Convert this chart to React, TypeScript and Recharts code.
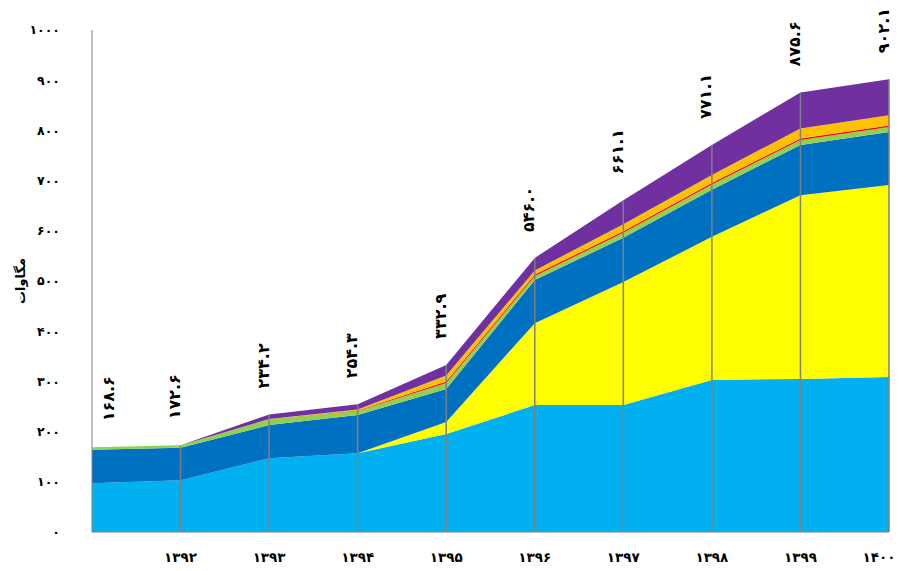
import { AreaChart, Area, XAxis, YAxis, ReferenceLine, LabelList } from 'recharts';

const years = ['۱۳۹۱', '۱۳۹۲', '۱۳۹۳', '۱۳۹۴', '۱۳۹۵', '۱۳۹۶', '۱۳۹۷', '۱۳۹۸', '۱۳۹۹', '۱۴۰۰'];

const lightBlue = [97, 103, 147, 157, 195, 253, 253, 303, 305, 309];
const yellow = [0, 0, 0, 0, 24, 163, 245, 285, 366, 382];
const darkBlue = [66.6, 64.6, 66, 76, 66, 86, 88, 94, 100, 106];
const green = [5, 5, 12, 8, 12, 8, 10, 10, 10, 10];
const red = [0, 0, 0, 1, 3, 3, 3, 3, 3, 3];
const orange = [0, 0, 0, 2, 12, 8, 14, 16, 20, 20];
const purple = [0, 0, 9.2, 10.3, 20.9, 25, 48.1, 60.1, 71.6, 72.1];

const totalLabels = ['۱۶۸.۶', '۱۷۲.۶', '۲۳۴.۲', '۲۵۴.۳', '۳۳۲.۹', '۵۴۶.۰', '۶۶۱.۱', '۷۷۱.۱', '۸۷۵.۶', '۹۰۲.۱'];

const yTicks = [0, 100, 200, 300, 400, 500, 600, 700, 800, 900, 1000];

const chartData = years.map((year, i) => ({
  year,
  lightBlue: lightBlue[i],
  yellow: yellow[i],
  darkBlue: darkBlue[i],
  green: green[i],
  red: red[i],
  orange: orange[i],
  purple: purple[i],
}));

// top of the stack, used for the drop lines
const totals = chartData.map(
  (d) => d.lightBlue + d.yellow + d.darkBlue + d.green + d.red + d.orange + d.purple
);

const faDigits = (n: number) => String(n).replace(/\d/g, (d) => '۰۱۲۳۴۵۶۷۸۹'[Number(d)]);

const font = 'DejaVu Sans';

const renderTotal = (props: any) => {
  const { x, y, index } = props;
  const dx = index === 0 ? 16 : -6;
  return (
    <text
      transform={`translate(${x + dx},${y - 26}) rotate(-90)`}
      textAnchor="start"
      dominantBaseline="central"
      fontFamily={font}
      fontWeight="bold"
      fontSize={16}
      fill="#000"
    >
      {totalLabels[index]}
    </text>
  );
};

const XTick = (props: any) => {
  const { x, y, payload, index } = props;
  if (index === 0) return null;
  const dx = index === years.length - 1 ? -10 : 0;
  return (
    <text
      x={x + dx}
      y={y}
      dy="0.71em"
      textAnchor="middle"
      fontFamily={font}
      fontWeight="bold"
      fontSize={13.5}
      fill="#000"
    >
      {payload.value}
    </text>
  );
};

export default function App() {
  return (
    <AreaChart
      width={897}
      height={563}
      data={chartData}
      margin={{ top: 22, right: 16, bottom: 9, left: 4 }}
    >
      <XAxis
        dataKey="year"
        stroke="#808080"
        tickLine={false}
        tickSize={0}
        tickMargin={20}
        height={30}
        tick={<XTick />}
        interval={0}
      />
      <YAxis
        domain={[0, 1000]}
        ticks={yTicks}
        width={80}
        stroke="#808080"
        tickLine={false}
        tickSize={0}
        tickMargin={32}
        tick={{ fill: '#000', fontFamily: font, fontWeight: 'bold', fontSize: 12.5 }}
        tickFormatter={(v: number) => faDigits(v)}
        label={{
          value: 'مگاوات',
          angle: -90,
          position: 'insideLeft',
          offset: 8,
          style: { fill: '#000', fontFamily: font, fontWeight: 'bold', fontSize: 13, textAnchor: 'middle' },
        }}
      />
      <Area type="linear" dataKey="lightBlue" stackId="a" stroke="none" fill="#00B0F0" fillOpacity={1} isAnimationActive={false} />
      <Area type="linear" dataKey="yellow" stackId="a" stroke="none" fill="#FFFF00" fillOpacity={1} isAnimationActive={false} />
      <Area type="linear" dataKey="darkBlue" stackId="a" stroke="none" fill="#0070C0" fillOpacity={1} isAnimationActive={false} />
      <Area type="linear" dataKey="green" stackId="a" stroke="none" fill="#92D050" fillOpacity={1} isAnimationActive={false} />
      <Area type="linear" dataKey="red" stackId="a" stroke="none" fill="#FF0000" fillOpacity={1} isAnimationActive={false} />
      <Area type="linear" dataKey="orange" stackId="a" stroke="none" fill="#FFC000" fillOpacity={1} isAnimationActive={false} />
      <Area type="linear" dataKey="purple" stackId="a" stroke="none" fill="#7030A0" fillOpacity={1} isAnimationActive={false}>
        <LabelList dataKey="purple" content={renderTotal} />
      </Area>
      {years.slice(1).map((y, i) => (
        <ReferenceLine
          key={y}
          segment={[{ x: y, y: 0 }, { x: y, y: totals[i + 1] }]}
          stroke="#808080"
          strokeWidth={1.5}
        />
      ))}
    </AreaChart>
  );
}
